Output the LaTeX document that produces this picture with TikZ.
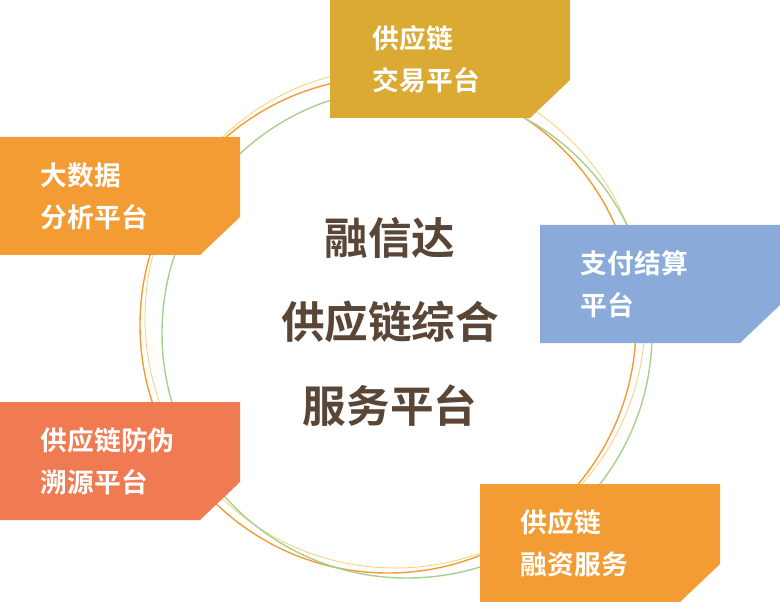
\documentclass[tikz,border=0pt]{standalone}
\usepackage{fontspec}
\setmainfont{Noto Sans CJK SC}[BoldFont={* Bold}]
\definecolor{cGold}{HTML}{DBAA33}
\definecolor{cOrange}{HTML}{F39C33}
\definecolor{cBlue}{HTML}{8AABD9}
\definecolor{cRed}{HTML}{F07A52}
\definecolor{cBrown}{HTML}{5A4636}
\definecolor{cGreen}{HTML}{A8D08D}
\definecolor{cYellow}{HTML}{F5D37A}
\tikzset{
  boxtext/.style={anchor=west, text=white, font=\fontsize{19}{30}\selectfont\bfseries, align=left},
}
% cut-corner box: x, y, colour
\newcommand{\cutbox}[3]{
  \fill[#3] (#1,#2) -- ++(240,0) -- ++(0,80) -- ++(-40,38) -- ++(-200,0) -- cycle;
}
\begin{document}
\begin{tikzpicture}[x=0.025cm, y=-0.025cm]
\useasboundingbox (0,0) rectangle (780,602);
\draw[cYellow, line width=0.6pt] (395,318) circle[radius=250];
\draw[cOrange, line width=1pt] (388,325) circle[radius=248];
\draw[cGreen, line width=1pt] (407,333) circle[radius=245];

\cutbox{330}{0}{cGold}
\node[boxtext] (trade) at (368,59) {供应链\\交易平台};
\cutbox{0}{137}{cOrange}
\node[boxtext] (data) at (36,196) {大数据\\分析平台};
\cutbox{540}{225}{cBlue}
\node[boxtext] (pay) at (576,284) {支付结算\\平台};
\cutbox{0}{402}{cRed}
\node[boxtext] (trace) at (36,461) {供应链防伪\\溯源平台};
\cutbox{480}{484}{cOrange}
\node[boxtext] (finance) at (516,543) {供应链\\融资服务};

\node[text=cBrown, font=\fontsize{31}{60}\selectfont\bfseries, align=center] (center) at (390,322)
  {融信达\\供应链综合\\服务平台};
\end{tikzpicture}
\end{document}
